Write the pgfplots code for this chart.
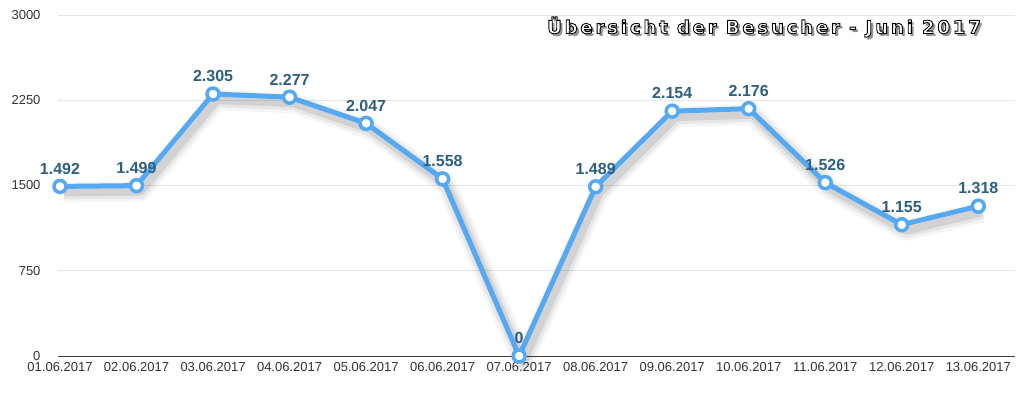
\documentclass[border=0pt]{standalone}
\usepackage{pgfplots}
\pgfplotsset{compat=1.18}
\usepackage{fontspec}
\setmainfont{Liberation Sans}
\newfontfamily\titlefont[LetterSpace=16]{DejaVu Sans Bold}
\definecolor{lineblue}{HTML}{55A8F2}
\definecolor{labelblue}{HTML}{2D5F80}
\definecolor{gridgrey}{HTML}{E6E6E6}
\definecolor{ticktext}{HTML}{333333}
\newcommand{\ttl}{\titlefont\fontsize{18}{18}\selectfont Übersicht der Besucher - Juni 2017}
\begin{document}
\begin{tikzpicture}
\useasboundingbox (0,0) rectangle (1024pt,400pt);
\begin{axis}[
  at={(58pt,44pt)}, anchor=south west,
  scale only axis, width=957pt, height=341pt,
  xmin=-0.026, xmax=12.48, ymin=0, ymax=3000,
  axis x line*=bottom, axis y line*=left,
  y axis line style={draw=none},
  ytick={0,750,1500,2250,3000},
  xtick={0,...,12},
  xticklabels={01.06.2017,02.06.2017,03.06.2017,04.06.2017,05.06.2017,06.06.2017,07.06.2017,08.06.2017,09.06.2017,10.06.2017,11.06.2017,12.06.2017,13.06.2017},
  ymajorgrids, grid style={gridgrey, line width=1pt},
  major tick length=0pt,
  x axis line style={draw=black!75, line width=1pt, -},
  tick label style={font=\fontsize{13}{13}\selectfont, text=ticktext},
  yticklabel style={anchor=east, xshift=-14pt},
  xticklabel style={yshift=-3pt},
  /pgf/number format/assume math mode=true,
  yticklabel={\pgfmathprintnumber[fixed,1000 sep={}]{\tick}},
  clip=false,
]
% shadow
\addplot[draw=black, opacity=0.04, line width=20pt, line join=round, xshift=4pt, yshift=-6pt, forget plot] coordinates {(0,1492)(1,1499)(2,2305)(3,2277)(4,2047)(5,1558)(6,0)(7,1489)(8,2154)(9,2176)(10,1526)(11,1155)(12,1318)};
\addplot[draw=black, opacity=0.06, line width=14pt, line join=round, xshift=4pt, yshift=-6pt, forget plot] coordinates {(0,1492)(1,1499)(2,2305)(3,2277)(4,2047)(5,1558)(6,0)(7,1489)(8,2154)(9,2176)(10,1526)(11,1155)(12,1318)};
\addplot[draw=black, opacity=0.09, line width=8pt, line join=round, xshift=4pt, yshift=-6pt, forget plot] coordinates {(0,1492)(1,1499)(2,2305)(3,2277)(4,2047)(5,1558)(6,0)(7,1489)(8,2154)(9,2176)(10,1526)(11,1155)(12,1318)};
% main line
\addplot[draw=lineblue, line width=5pt, line join=round,
  mark=*, mark options={fill=white, draw=lineblue, line width=3.5pt}, mark size=6pt,
  nodes near coords,
  every node near coord/.style={font=\fontsize{16}{16}\selectfont\bfseries, text=labelblue, anchor=south, yshift=7pt},
  /pgf/number format/.cd, fixed, precision=0, 1000 sep={.}, assume math mode=true,
] coordinates {(0,1492)(1,1499)(2,2305)(3,2277)(4,2047)(5,1558)(6,0)(7,1489)(8,2154)(9,2176)(10,1526)(11,1155)(12,1318)};
\end{axis}
% title: shadow, then stroked white text
\node[text=black!60, opacity=0.7] at (766.5pt,370.5pt) {\ttl};
\node[text=white] at (764pt,373pt) {\special{pdf:literal direct 2 Tr 0.9 w 0 0 0 RG 1 1 1 rg}\ttl\special{pdf:literal direct 0 Tr}};
\end{tikzpicture}
\end{document}
